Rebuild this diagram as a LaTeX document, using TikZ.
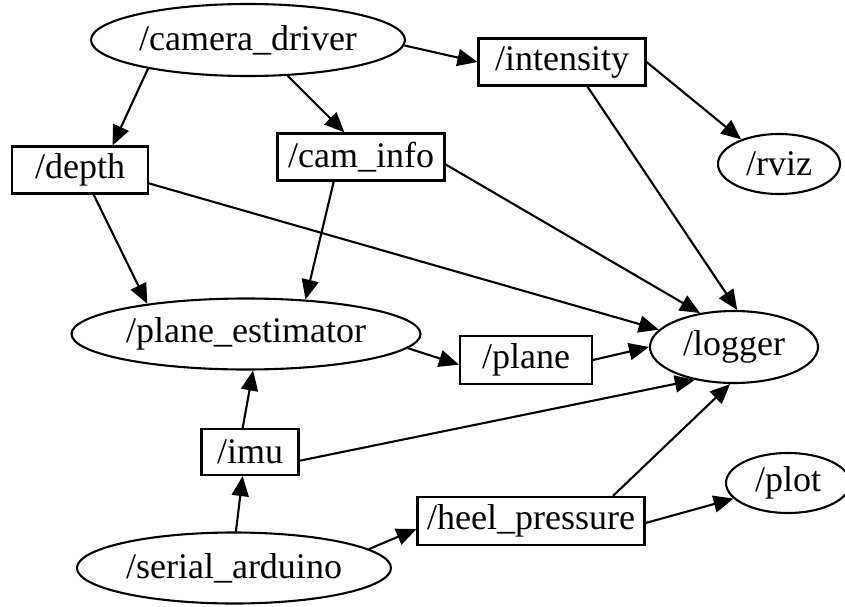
\documentclass[tikz,border=0pt]{standalone}
\usepackage{fontspec}
\setmainfont{Liberation Serif}
\usetikzlibrary{shapes.geometric,arrows.meta}
\begin{document}
\begin{tikzpicture}[x=1pt,y=-1pt,
  lbl/.style={font=\fontsize{36}{40}\selectfont, text=black, inner sep=0pt},
  ell/.style={lbl, draw, ellipse, line width=2.1pt},
  box/.style={lbl, draw, rectangle, line width=2.1pt},
  edge/.style={line width=2.1pt, -{Triangle[length=20pt,width=17pt]}}]
\useasboundingbox (0,0) rectangle (845,607);
% nodes
\node[ell, minimum width=314pt, minimum height=72pt] (cam) at (248,40) {/camera\_driver};
\node[box, minimum width=167pt, minimum height=47pt] (int) at (562,62) {/intensity};
\node[ell, minimum width=122pt, minimum height=60pt] (rviz) at (779,164) {/rviz};
\node[box, minimum width=136pt, minimum height=47pt] (depth) at (80,170) {/depth};
\node[box, minimum width=167pt, minimum height=47pt] (caminfo) at (361,157) {/cam\_info};
\node[ell, minimum width=349pt, minimum height=71pt] (pe) at (246,334) {/plane\_estimator};
\node[box, minimum width=132pt, minimum height=48pt] (plane) at (526,360) {/plane};
\node[ell, minimum width=168pt, minimum height=72pt] (logger) at (734,347) {/logger};
\node[box, minimum width=97pt, minimum height=46pt] (imu) at (250,452) {/imu};
\node[ell, minimum width=124pt, minimum height=60pt] (plot) at (788,483) {/plot};
\node[box, minimum width=227pt, minimum height=48pt] (heel) at (531,521) {/heel\_pressure};
\node[ell, minimum width=314pt, minimum height=71pt] (serial) at (234,568) {/serial\_arduino};
% edges
\draw[edge] (cam.-2.6) -- (int.west);
\draw[edge] (cam.-164.5) -- (depth.37.5);
\draw[edge] (cam.-42.7) -- (caminfo.124.8);
\draw[edge] (int.east) -- (rviz.147.6);
\draw[edge] (int.-44.4) -- (logger.85);
\draw[edge] (caminfo.-5.5) -- (logger.135.8);
\draw[edge] (depth.-11.6) -- (logger.167.7);
\draw[edge] (depth.-61) -- (pe.163.6);
\draw[edge] (caminfo.222.1) -- (pe.30.7);
\draw[edge] (pe.-5.7) -- (plane.184.3);
\draw[edge] (plane.east) -- (logger.west);
\draw[edge] (imu.107) -- (pe.-79);
\draw[edge] (imu.-10.5) -- (logger.220);
\draw[edge] (serial.87) -- (imu.-107);
\draw[edge] (serial.8.2) -- (heel.184.5);
\draw[edge] (heel.17.3) -- (logger.-96);
\draw[edge] (heel.-1) -- (plot.196);
\end{tikzpicture}
\end{document}
